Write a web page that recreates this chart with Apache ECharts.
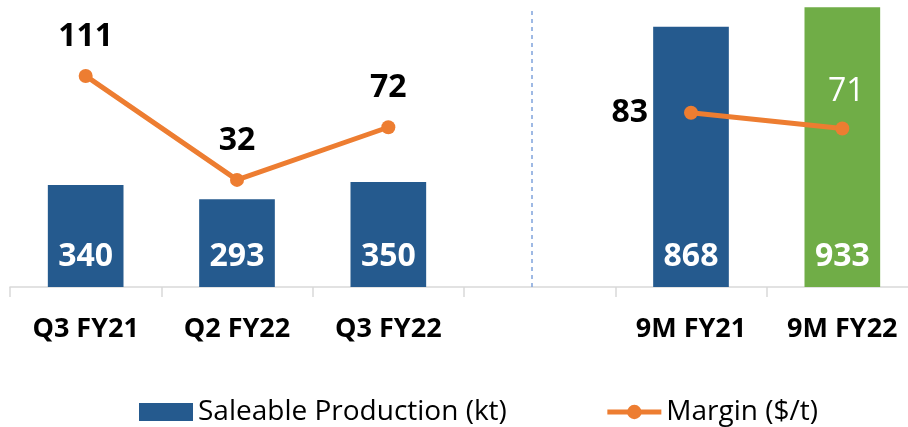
<!DOCTYPE html>
<html>
<head>
<meta charset="utf-8">
<script src="https://cdn.jsdelivr.net/npm/echarts@6/dist/echarts.min.js"></script>
<style>html,body{margin:0;padding:0;background:#fff;overflow:hidden;width:908px;height:427px;}#c{width:918px;height:427px;}</style>
</head>
<body>
<div id="c"></div>
<script>
const categories = ['Q3 FY21', 'Q2 FY22', 'Q3 FY22', '', '9M FY21', '9M FY22'];
const production = [340, 293, 350, null, 868, 933];
const margin = [111, 32, 72, null, 83, 71];
const seriesNames = ['Saleable Production (kt)', 'Margin ($/t)'];
const dividerPosition = 3.45; // in category units on a hidden helper axis

const BLUE = '#255A8E', GREEN = '#70AD47', ORANGE = '#ED7D31';
const FONT = 'Open Sans';

const barData = production.map((v, i) => i === 5 ? { value: v, itemStyle: { color: GREEN } } : v);
const lineData = margin.map((v, i) => {
  if (v === null) return null;
  if (i === 4) return { value: v, label: { position: 'left', distance: 36 } };
  if (i === 5) return { value: v, label: { position: 'top', distance: 14, color: '#fff', fontWeight: 'normal', offset: [4, 0] } };
  return v;
});

const chart = echarts.init(document.getElementById('c'), null, { renderer: 'canvas' });
chart.setOption({
  animation: false,
  textStyle: { fontFamily: FONT },
  grid: { left: 10, right: 0, top: 0, height: 287, containLabel: false },
  legend: {
    left: 134, top: 393,
    itemWidth: 54, itemHeight: 18, itemGap: 98,
    textStyle: { fontFamily: FONT, fontSize: 28, color: '#000' },
    data: [
      { name: seriesNames[0], icon: 'rect' },
      { name: seriesNames[1], lineStyle: { width: 5 } }
    ]
  },
  xAxis: [{
    type: 'category', data: categories,
    axisLine: { lineStyle: { color: '#D9D9D9', width: 1.5 } },
    axisTick: { show: true, length: 10, lineStyle: { color: '#D9D9D9', width: 1.5 } },
    axisLabel: { margin: 29, fontFamily: FONT, fontSize: 27, fontWeight: 'bold', color: '#000' }
  }, {
    type: 'value', min: 0, max: categories.length, show: false
  }],
  yAxis: [
    { type: 'value', min: 0, max: 957, show: false, splitLine: { show: false } },
    { type: 'value', min: -49.4, max: 168.7, show: false, splitLine: { show: false } }
  ],
  series: [
    {
      name: seriesNames[0], type: 'bar', yAxisIndex: 0, barWidth: '50%',
      itemStyle: { color: BLUE },
      label: { show: true, position: 'insideBottom', distance: 14, color: '#fff', fontFamily: FONT, fontSize: 32, fontWeight: 'bold' },
      data: barData
    },
    {
      name: seriesNames[1], type: 'line', yAxisIndex: 1,
      connectNulls: false,
      symbol: 'circle', symbolSize: 14,
      itemStyle: { color: ORANGE },
      lineStyle: { color: ORANGE, width: 5 },
      label: { show: true, position: 'top', distance: 16, color: '#000', fontFamily: FONT, fontSize: 32, fontWeight: 'bold' },
      data: lineData
    },
    {
      name: 'divider', type: 'line', xAxisIndex: 1, yAxisIndex: 0, data: [],
      markLine: {
        silent: true, symbol: ['none', 'none'], label: { show: false },
        lineStyle: { color: '#7FA3DC', type: [4, 4], width: 1.5 },
        data: [[{ coord: [dividerPosition, 0] }, { coord: [dividerPosition, 923] }]]
      }
    }
  ]
});
</script>
</body>
</html>
